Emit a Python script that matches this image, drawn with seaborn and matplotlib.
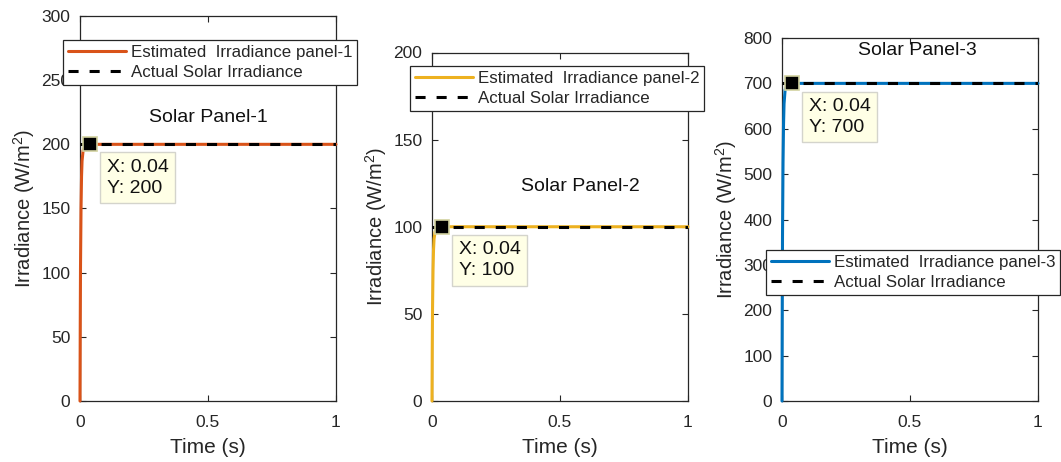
import matplotlib
matplotlib.use("Agg")
import matplotlib.pyplot as plt
import seaborn as sns
import pandas as pd

sns.set_theme(style="ticks")
plt.rcParams["font.family"] = ["Liberation Sans", "DejaVu Sans"]
plt.rcParams["mathtext.fontset"] = "custom"
plt.rcParams["mathtext.rm"] = "Liberation Sans"
plt.rcParams["mathtext.it"] = "Liberation Sans:italic"

# Time samples for the estimator start-up transient (s)
time_s = [0, 0.001, 0.002, 0.004, 0.006, 0.008, 0.012, 0.02, 0.04, 1.0]

# Estimated irradiance per panel (W/m^2)
est_panel1 = [0, 60, 105, 150, 175, 187, 195, 199, 200, 200]
est_panel2 = [0, 30, 52, 75, 87, 93, 97, 99.5, 100, 100]
est_panel3 = [0, 210, 365, 525, 610, 655, 685, 697, 700, 700]

# Actual solar irradiance per panel (W/m^2)
actual_time = [0, 1.0]
actual_panel1 = [200, 200]
actual_panel2 = [100, 100]
actual_panel3 = [700, 700]

# Data-tip readouts
tip_x = 0.04
tip_y = [200, 100, 700]

panel_titles = ["Solar Panel-1", "Solar Panel-2", "Solar Panel-3"]
est_labels = ["Estimated  Irradiance panel-1", "Estimated  Irradiance panel-2",
              "Estimated  Irradiance panel-3"]
actual_label = "Actual Solar Irradiance"
y_limits = [300, 200, 800]
y_steps = [50, 50, 100]
x_ticks = [0, 0.5, 1]
x_tick_labels = ["0", "0.5", "1"]

colors = ["#D95319", "#EDB120", "#0072BD"]
ink = "#262626"

W, H = 1061, 462
fig = plt.figure(figsize=(W / 100, H / 100), dpi=100)

# axes boxes in pixels: left, top, right, bottom
boxes = [(80, 16, 336, 401), (432, 52.5, 688, 401), (782, 38, 1038, 401)]
legend_anchor = [(63, 40), (410, 66), (766, 250)]
title_pos = [(0.50, 221), (0.58, 123), (0.53, 772)]

est_all = [est_panel1, est_panel2, est_panel3]
act_all = [actual_panel1, actual_panel2, actual_panel3]

for i in range(3):
    l, t, r, b = boxes[i]
    ax = fig.add_axes([l / W, 1 - b / H, (r - l) / W, (b - t) / H])
    df_est = pd.DataFrame({"t": time_s, "v": est_all[i]})
    df_act = pd.DataFrame({"t": actual_time, "v": act_all[i]})
    sns.lineplot(data=df_est, x="t", y="v", ax=ax, color=colors[i], lw=2.2,
                 label=est_labels[i], estimator=None, sort=False,
                 zorder=3, clip_on=False)
    sns.lineplot(data=df_act, x="t", y="v", ax=ax, color="black", lw=2.2,
                 label=actual_label, estimator=None, sort=False,
                 dashes=False, linestyle=(0, (3.3, 3.6)), zorder=3.1)
    ax.set_xlim(0, 1)
    ax.set_ylim(0, y_limits[i])
    ax.set_xticks(x_ticks)
    ax.set_xticklabels(x_tick_labels)
    ax.set_yticks(list(range(0, y_limits[i] + 1, y_steps[i])))
    ax.tick_params(direction="in", top=True, right=True, length=4,
                   width=0.8, labelsize=12.5, colors=ink, pad=7)
    ax.tick_params(axis="x", pad=10)
    for s in ax.spines.values():
        s.set_linewidth(0.9)
        s.set_color(ink)
    ax.set_xlabel("Time (s)", fontsize=15, color=ink, labelpad=6)
    ax.set_ylabel(r"Irradiance (W/m$^2$)", fontsize=14.5, color=ink,
                  labelpad=3)
    ax.text(title_pos[i][0], title_pos[i][1], panel_titles[i], ha="center",
            va="center", fontsize=14, color="#111111")

    # data tip
    ax.plot([tip_x], [tip_y[i]], marker="s", ms=10, mfc="black",
            mec="#D2D2A0", mew=1.2, ls="none", zorder=6, clip_on=False)
    ax.annotate(f"X: {tip_x}\nY: {tip_y[i]}", xy=(tip_x, tip_y[i]),
                xytext=(12, -10.5), textcoords="offset points", ha="left",
                va="top", fontsize=14, linespacing=1.3, color="#111111",
                bbox=dict(boxstyle="square,pad=0.33", fc="#FFFFE6",
                          ec="#D4D4CC", lw=1.0), zorder=7)

    lx, ly = legend_anchor[i]
    leg = ax.legend(loc="upper left", bbox_to_anchor=(lx / W, 1 - ly / H),
                    bbox_transform=fig.transFigure, fontsize=12.2,
                    frameon=True, fancybox=False, framealpha=1,
                    edgecolor=ink, handlelength=3.4, handletextpad=0.3,
                    borderpad=0.3, labelspacing=0.3, borderaxespad=0)
    leg.get_frame().set_linewidth(0.9)
    leg.set_zorder(10)

fig.savefig("out.png", dpi=100)
